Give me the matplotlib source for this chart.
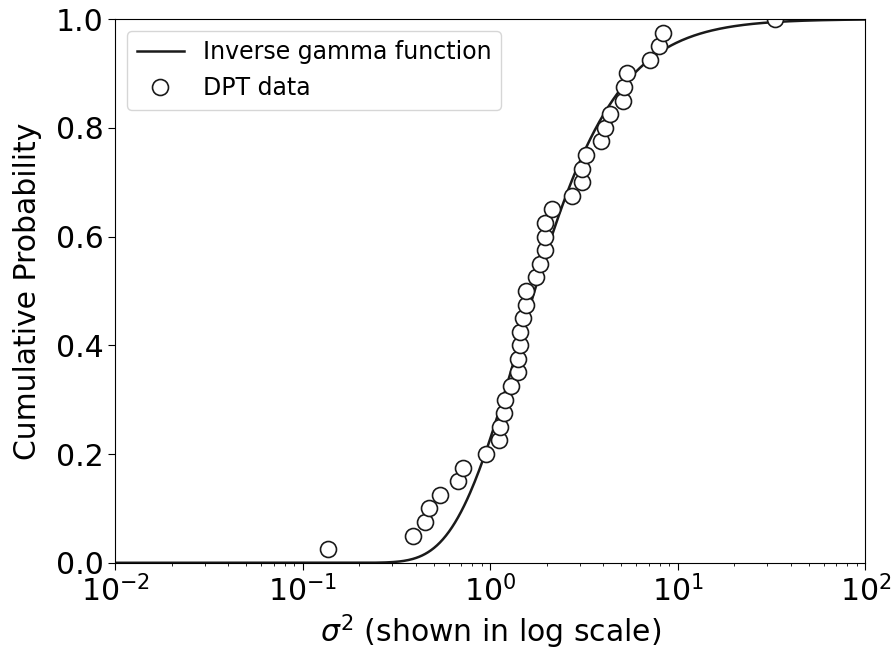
import math
import numpy as np
import matplotlib
matplotlib.use('Agg')
import matplotlib.pyplot as plt

# DPT data: sorted sigma^2 values and their empirical cumulative probability
sigma2 = [0.137, 0.385, 0.449, 0.468, 0.536, 0.676, 0.713, 0.95, 1.11, 1.12,
          1.18, 1.19, 1.29, 1.40, 1.40, 1.44, 1.44, 1.50, 1.55, 1.55,
          1.75, 1.85, 1.96, 1.96, 1.96, 2.13, 2.72, 3.07, 3.08, 3.23,
          3.88, 4.10, 4.35, 5.09, 5.17, 5.34, 7.11, 7.94, 8.28, 33.0]
cum_prob = [0.025, 0.05, 0.075, 0.1, 0.125, 0.15, 0.175, 0.2, 0.225, 0.25,
            0.275, 0.3, 0.325, 0.35, 0.375, 0.4, 0.425, 0.45, 0.475, 0.5,
            0.525, 0.55, 0.575, 0.6, 0.625, 0.65, 0.675, 0.7, 0.725, 0.75,
            0.775, 0.8, 0.825, 0.85, 0.875, 0.9, 0.925, 0.95, 0.975, 1.0]

# fitted inverse gamma parameters
ALPHA = 1.82
BETA = 2.58


def inv_gamma_cdf(x, a, b):
    # integrate the pdf numerically on a fine log grid
    grid = np.logspace(-4, 4, 20000)
    pdf = np.exp(a * math.log(b) - math.lgamma(a) - (a + 1) * np.log(grid) - b / grid)
    cdf = np.concatenate([[0], np.cumsum(0.5 * (pdf[1:] + pdf[:-1]) * np.diff(grid))])
    return np.interp(x, grid, cdf)


x = np.logspace(-2, 2, 500)
y = inv_gamma_cdf(x, ALPHA, BETA)

fig, ax = plt.subplots(figsize=(8.94, 6.59), dpi=100)
ax.plot(x, y, color='#1a1a1a', lw=1.8, label='Inverse gamma function')
ax.plot(sigma2, cum_prob, 'o', ms=11.5, mfc='white', mec='#1a1a1a', mew=1.2, label='DPT data')
ax.set_xscale('log')
ax.set_xlim(1e-2, 1e2)
ax.set_ylim(0, 1)
ax.set_xlabel(r'$\sigma^2$ (shown in log scale)', fontsize=21.5)
ax.set_ylabel('Cumulative Probability', fontsize=21.5, labelpad=10)
ax.tick_params(labelsize=21.5, length=5)
ax.legend(loc='upper left', fontsize=17)
plt.subplots_adjust(left=0.129, right=0.968, top=0.971, bottom=0.146)
plt.savefig('out.png')
